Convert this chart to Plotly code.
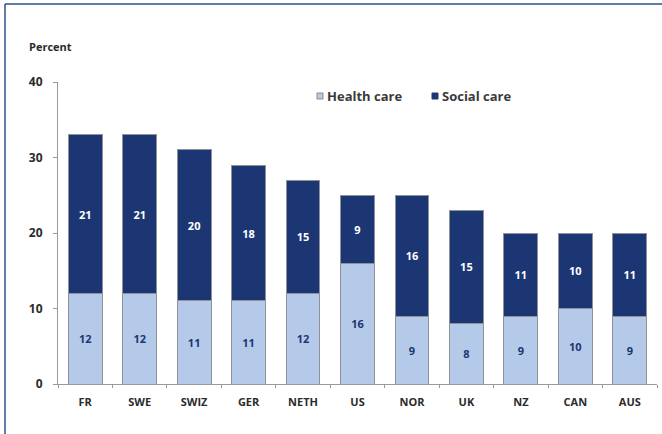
import plotly.graph_objects as go

# Share of spending by country, split into health care and social care (percent)
countries = ["FR", "SWE", "SWIZ", "GER", "NETH", "US", "NOR", "UK", "NZ", "CAN", "AUS"]
health_care = [12, 12, 11, 11, 12, 16, 9, 8, 9, 10, 9]
social_care = [21, 21, 20, 18, 15, 9, 16, 15, 11, 10, 11]
y_ticks = [0, 10, 20, 30, 40]
series_names = ["Health care", "Social care"]

W, H = 662, 434
ML, MR, MT, MB = 58, 5, 82, 50
PW, PH = W - ML - MR, H - MT - MB

LIGHT = "#b5cae9"
NAVY = "#1c3674"
OUTLINE = "#8d929b"
TEXT = "#2b2b2b"
FONT = "Open Sans"


def px_to_paper_x(px):
    return (px - ML) / PW


def px_to_paper_y(py):
    return (H - MB - py) / PH


fig = go.Figure()
fig.add_trace(go.Bar(
    x=countries, y=health_care, name=series_names[0],
    marker=dict(color=LIGHT, line=dict(color=OUTLINE, width=1)),
    text=health_care, textposition="inside", insidetextanchor="middle",
    textfont=dict(color=NAVY, size=11, family=FONT, weight=700),
    textangle=0, showlegend=False,
))
fig.add_trace(go.Bar(
    x=countries, y=social_care, name=series_names[1],
    marker=dict(color=NAVY, line=dict(color=OUTLINE, width=1)),
    text=social_care, textposition="inside", insidetextanchor="middle",
    textfont=dict(color="white", size=11, family=FONT, weight=700),
    textangle=0, showlegend=False,
))

# compact key: small square swatch followed closely by its label
key_items = [
    (series_names[0], LIGHT, "#8a8a8a", 317),
    (series_names[1], NAVY, NAVY, 432),
]
key_y = 96
shapes = []
annotations = []
for label, fill, edge, x_px in key_items:
    shapes.append(dict(
        type="rect", xref="paper", yref="paper",
        x0=px_to_paper_x(x_px), x1=px_to_paper_x(x_px + 6),
        y0=px_to_paper_y(key_y + 3), y1=px_to_paper_y(key_y - 3),
        fillcolor=fill, line=dict(color=edge, width=1),
    ))
    annotations.append(dict(
        text=label, xref="paper", yref="paper",
        x=px_to_paper_x(x_px + 8), y=px_to_paper_y(key_y),
        xanchor="left", yanchor="middle", showarrow=False,
        font=dict(size=13, color="#3a3a3a", family=FONT, weight=700),
    ))

annotations.append(dict(
    text="Percent", xref="paper", yref="paper",
    x=px_to_paper_x(27), y=px_to_paper_y(46),
    xanchor="left", yanchor="middle", showarrow=False,
    font=dict(size=11, color=TEXT, family=FONT, weight=700),
))

# frame lines along the top and left edges of the figure
for x0, y0, x1, y1 in [(5, 4, W, 4), (5, 4, 5, H)]:
    shapes.append(dict(
        type="line", xref="paper", yref="paper",
        x0=px_to_paper_x(x0), x1=px_to_paper_x(x1),
        y0=px_to_paper_y(y0), y1=px_to_paper_y(y1),
        line=dict(color="#2d4f8e", width=1.5),
    ))

fig.update_layout(
    width=W, height=H,
    margin=dict(l=ML, r=MR, t=MT, b=MB, pad=0),
    barmode="stack", bargap=0.38,
    plot_bgcolor="white", paper_bgcolor="white",
    font=dict(family=FONT, color=TEXT, size=11),
    showlegend=False,
    xaxis=dict(
        showline=True, linecolor="#9a9a9a", linewidth=1,
        ticks="outside", ticklen=3, tickcolor="#9a9a9a", tickson="boundaries",
        tickfont=dict(size=11, color=TEXT, family=FONT, weight=700),
        ticklabelstandoff=8, showgrid=False, zeroline=False,
    ),
    yaxis=dict(
        range=[0, 40], tickvals=y_ticks,
        showline=True, linecolor="#9a9a9a", linewidth=1,
        ticks="outside", ticklen=4, tickcolor="#9a9a9a",
        tickfont=dict(size=12, color=TEXT, family=FONT, weight=700),
        ticklabelstandoff=8, showgrid=False, zeroline=False,
    ),
    annotations=annotations,
    shapes=shapes,
)

fig.write_html("out.html")
